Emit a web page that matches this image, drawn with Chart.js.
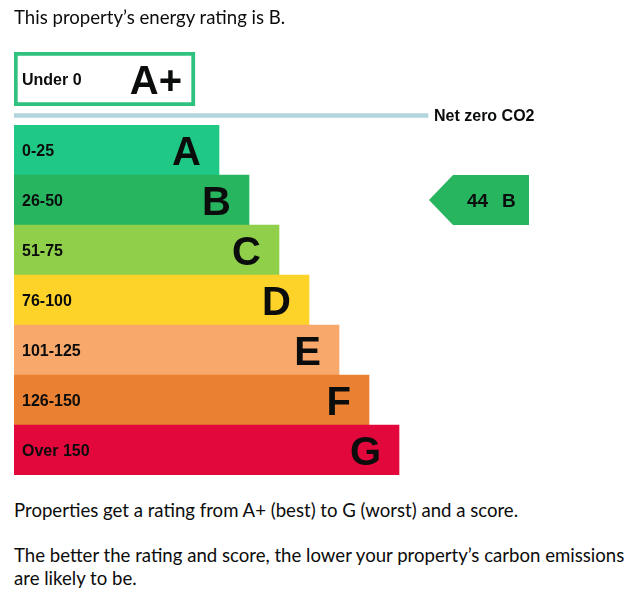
<!DOCTYPE html>
<html>
<head>
<meta charset="utf-8">
<script src="https://cdn.jsdelivr.net/npm/chart.js@4.4.1/dist/chart.umd.min.js"></script>
<style>
  html, body { margin: 0; padding: 0; background: #fff; }
  body { width: 643px; height: 612px; position: relative; overflow: hidden; font-family: Lato, sans-serif; color: #0b0c0c; }
  #chart { position: absolute; left: 0; top: 0; width: 643px; height: 480px; }
  .txt { position: absolute; left: 14px; margin: 0; font-size: 18.6px; line-height: 23px; white-space: nowrap; }
  #intro { top: 6px; }
  #p1 { top: 499px; }
  #p2 { top: 544px; }
</style>
</head>
<body>
<canvas id="chart" width="643" height="480"></canvas>
<p class="txt" id="intro">This property’s energy rating is B.</p>
<p class="txt" id="p1">Properties get a rating from A+ (best) to G (worst) and a score.</p>
<p class="txt" id="p2">The better the rating and score, the lower your property’s carbon emissions<br>are likely to be.</p>
<script>
// bands A..G
const bandLetters = ['A', 'B', 'C', 'D', 'E', 'F', 'G'];
const bandRanges = ['0-25', '26-50', '51-75', '76-100', '101-125', '126-150', 'Over 150'];
const bandLengths = [205, 235, 265, 295, 325, 355, 385];
const bandColours = ['#1fc985', '#27b560', '#8fcf4a', '#fdd32a', '#f7a86a', '#ea8032', '#e3083c'];

// A+ box
const topLetters = ['A+'];
const topRanges = ['Under 0'];
const topLengths = [181];

// net zero line
const netZeroLabels = ['Net zero CO2'];
const netZeroLengths = [414];

// current rating
const currentScore = 44;
const currentBand = 'B';

const labelFont = 'bold 16px "Liberation Sans", Arial, sans-serif';
const letterFont = 'bold 40px "Liberation Sans", Arial, sans-serif';

const ratingLabels = {
  id: 'ratingLabels',
  afterDatasetsDraw(chart) {
    const ctx = chart.ctx;
    const x = chart.scales.x;
    ctx.save();
    ctx.fillStyle = '#0b0c0c';
    ctx.textBaseline = 'alphabetic';

    // band texts
    chart.getDatasetMeta(0).data.forEach((bar, i) => {
      ctx.font = labelFont;
      ctx.textAlign = 'left';
      ctx.fillText(bandRanges[i], bar.base + 8, bar.y + 6);
      ctx.font = letterFont;
      ctx.textAlign = 'right';
      ctx.fillText(bandLetters[i], bar.x - 18, bar.y + 15);
    });

    // A+ box texts
    chart.getDatasetMeta(1).data.forEach((bar, i) => {
      ctx.font = labelFont;
      ctx.textAlign = 'left';
      ctx.fillText(topRanges[i], bar.base + 8, bar.y + 6);
      ctx.font = letterFont;
      ctx.textAlign = 'right';
      ctx.fillText(topLetters[i], bar.x - 13, bar.y + 15);
    });

    // net zero label
    chart.getDatasetMeta(2).data.forEach((bar, i) => {
      ctx.font = labelFont;
      ctx.textAlign = 'left';
      ctx.fillText(netZeroLabels[i], bar.x + 6, bar.y + 5);
    });

    // current rating arrow
    const idx = bandLetters.indexOf(currentBand);
    const bar = chart.getDatasetMeta(0).data[idx];
    const top = bar.y - bar.height / 2;
    const bottom = bar.y + bar.height / 2;
    const tip = x.getPixelForValue(415);
    const right = x.getPixelForValue(515);
    ctx.fillStyle = bandColours[idx];
    ctx.beginPath();
    ctx.moveTo(tip, bar.y);
    ctx.lineTo(tip + 24, top);
    ctx.lineTo(right, top);
    ctx.lineTo(right, bottom);
    ctx.lineTo(tip + 24, bottom);
    ctx.closePath();
    ctx.fill();

    ctx.fillStyle = '#0b0c0c';
    ctx.font = 'bold 19px "Liberation Sans", Arial, sans-serif';
    ctx.textAlign = 'left';
    ctx.fillText(String(currentScore), tip + 38, bar.y + 7);
    ctx.fillText(currentBand, tip + 73, bar.y + 7);
    ctx.restore();
  }
};

new Chart(document.getElementById('chart'), {
  type: 'bar',
  data: {
    datasets: [
      {
        data: bandLengths,
        backgroundColor: bandColours,
        yAxisID: 'yBands',
        grouped: false,
        barPercentage: 1,
        categoryPercentage: 1
      },
      {
        data: topLengths,
        backgroundColor: '#ffffff',
        borderColor: '#2ec27e',
        borderWidth: 4,
        borderSkipped: false,
        yAxisID: 'yTop',
        grouped: false,
        barPercentage: 1,
        categoryPercentage: 1
      },
      {
        data: netZeroLengths,
        backgroundColor: '#b1d5dc',
        yAxisID: 'yNet',
        grouped: false,
        barThickness: 4
      }
    ]
  },
  options: {
    indexAxis: 'y',
    responsive: false,
    animation: false,
    devicePixelRatio: 1,
    layout: { padding: { top: 52, bottom: 5, left: 14, right: 29 } },
    plugins: {
      legend: { display: false },
      tooltip: { enabled: false }
    },
    scales: {
      x: { type: 'linear', min: 0, max: 600, display: false },
      yTop: { axis: 'y', type: 'category', labels: topLetters, position: 'left', stack: 'rows', stackWeight: 54, weight: 3, display: false },
      yNet: { axis: 'y', type: 'category', labels: netZeroLabels, position: 'left', stack: 'rows', stackWeight: 19, weight: 2, display: false },
      yBands: { axis: 'y', type: 'category', labels: bandLetters, position: 'left', stack: 'rows', stackWeight: 350, weight: 1, display: false }
    }
  },
  plugins: [ratingLabels]
});
</script>
</body>
</html>
